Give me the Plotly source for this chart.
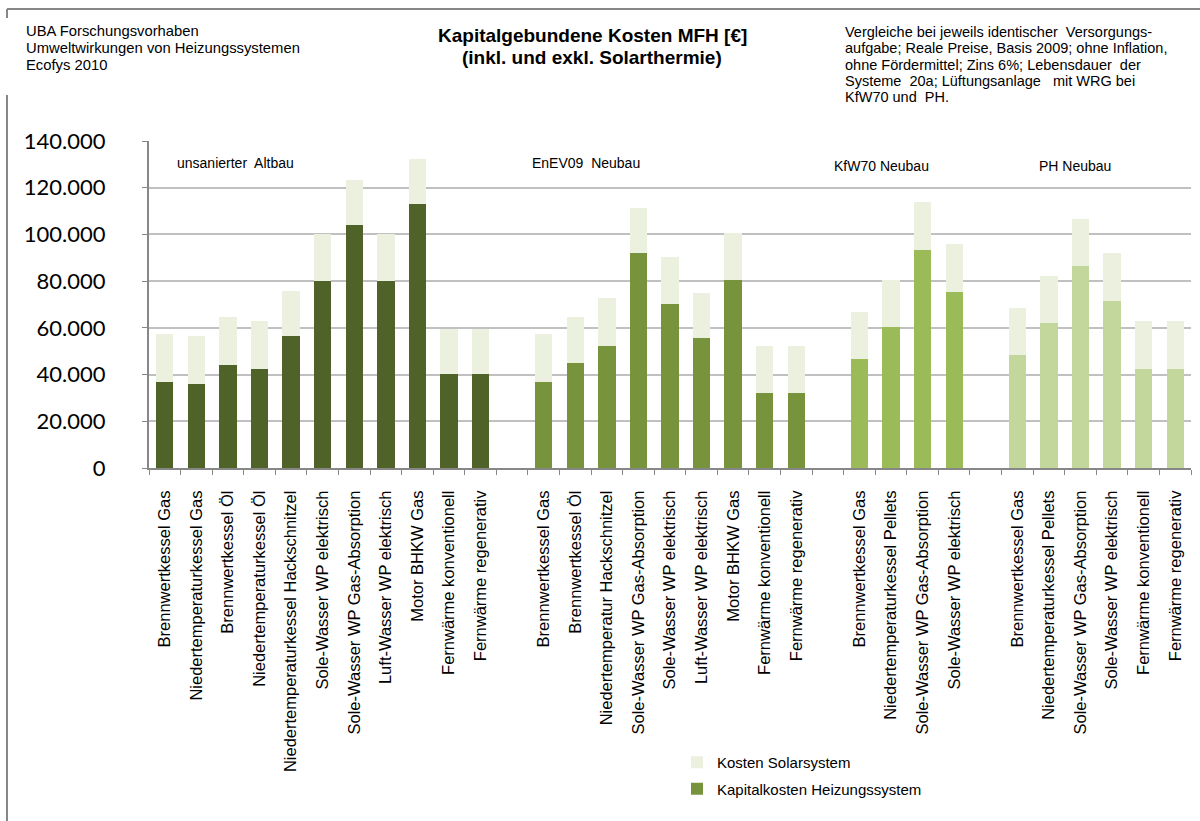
import plotly.graph_objects as go

# Categories per building standard
altbau_names = ["Brennwertkessel Gas", "Niedertemperaturkessel Gas", "Brennwertkessel Öl",
                "Niedertemperaturkessel Öl", "Niedertemperaturkessel Hackschnitzel",
                "Sole-Wasser WP elektrisch", "Sole-Wasser WP Gas-Absorption",
                "Luft-Wasser WP elektrisch", "Motor BHKW Gas", "Fernwärme konventionell",
                "Fernwärme regenerativ"]
altbau_heiz = [36900, 36100, 44300, 42600, 56400, 79900, 103900, 79900, 113000, 40300, 40300]
altbau_solar = [20400, 20300, 20200, 20200, 19400, 20100, 19500, 20100, 19400, 19400, 19400]

enev_names = ["Brennwertkessel Gas", "Brennwertkessel Öl", "Niedertemperatur Hackschnitzel",
              "Sole-Wasser WP Gas-Absorption", "Sole-Wasser WP elektrisch",
              "Luft-Wasser WP elektrisch", "Motor BHKW Gas", "Fernwärme konventionell",
              "Fernwärme regenerativ"]
enev_heiz = [36900, 45000, 52200, 92100, 70100, 55600, 80500, 32100, 32100]
enev_solar = [20400, 19500, 20400, 19100, 20100, 19400, 20200, 20100, 20100]

kfw_names = ["Brennwertkessel Gas", "Niedertemperaturkessel Pellets",
             "Sole-Wasser WP Gas-Absorption", "Sole-Wasser WP elektrisch"]
kfw_heiz = [46700, 60200, 93300, 75500]
kfw_solar = [20100, 20300, 20400, 20400]

ph_names = ["Brennwertkessel Gas", "Niedertemperaturkessel Pellets",
            "Sole-Wasser WP Gas-Absorption", "Sole-Wasser WP elektrisch",
            "Fernwärme konventionell", "Fernwärme regenerativ"]
ph_heiz = [48400, 61900, 86300, 71700, 42600, 42600]
ph_solar = [20200, 20400, 20200, 20200, 20200, 20200]

group_labels = ["unsanierter  Altbau", "EnEV09  Neubau", "KfW70 Neubau", "PH Neubau"]
group_colors = ["#4f6228", "#77933c", "#9bbb59", "#c3d69b"]
solar_color = "#ebf1de"

header_left = ["UBA Forschungsvorhaben", "Umweltwirkungen von Heizungssystemen", "Ecofys 2010"]
title_lines = ["Kapitalgebundene Kosten MFH [€]", "(inkl. und exkl. Solarthermie)"]
header_right = ["Vergleiche bei jeweils identischer  Versorgungs-",
                "aufgabe; Reale Preise, Basis 2009; ohne Inflation,",
                "ohne Fördermittel; Zins 6%; Lebensdauer  der",
                "Systeme  20a; Lüftungsanlage   mit WRG bei",
                "KfW70 und  PH."]

groups = [
    (altbau_names, altbau_heiz, altbau_solar),
    (enev_names, enev_heiz, enev_solar),
    (kfw_names, kfw_heiz, kfw_solar),
    (ph_names, ph_heiz, ph_solar),
]

# plot area in pixels (used to place the free texts)
W, H = 1200, 821
L, R, T, B = 149, 9, 141, 353
PW, PH = W - L - R, H - T - B


def px(x):
    return (x - L) / PW


def py(y):
    return (H - B - y) / PH


fig = go.Figure()

tickvals = []
ticktext = []
pos = 0
for i, (names, heiz, solar) in enumerate(groups):
    xs = list(range(pos, pos + len(names)))
    tickvals += xs
    ticktext += names
    fig.add_trace(go.Bar(
        x=xs, y=heiz, name="Kapitalkosten Heizungssystem",
        marker=dict(color=group_colors[i], line=dict(width=0)),
        width=0.55, legendgroup="heiz", legendrank=2,
        showlegend=(i == 1),
    ))
    fig.add_trace(go.Bar(
        x=xs, y=solar, name="Kosten Solarsystem",
        marker=dict(color=solar_color, line=dict(width=0)),
        width=0.55, legendgroup="solar", legendrank=1,
        showlegend=(i == 0),
    ))
    pos += len(names) + 1  # one empty slot between groups

n_slots = pos - 1

# group labels inside the plot
label_x = [0.32, 11.56, 21.13, 27.62]
label_y = [130600, 130600, 129300, 129300]
for txt, lx, ly in zip(group_labels, label_x, label_y):
    fig.add_annotation(x=lx, y=ly, xref="x", yref="y", text=txt, showarrow=False,
                       xanchor="left", yanchor="middle",
                       font=dict(family="Liberation Sans, Arial", size=14, color="#000000"))

# header texts, one annotation per line to match the tight line spacing
txt_font = dict(family="Liberation Sans, Arial", size=14.5, color="#000000")
for k, line in enumerate(header_left):
    fig.add_annotation(x=px(24), y=py(31 + 17 * k), xref="paper", yref="paper",
                       showarrow=False, text=line, xanchor="left", yanchor="middle",
                       font=dict(family="Liberation Sans, Arial", size=14.8, color="#000000"))

for k, line in enumerate(header_right):
    fig.add_annotation(x=px(843), y=py(32 + 16.3 * k), xref="paper", yref="paper",
                       showarrow=False, text=line, xanchor="left", yanchor="middle",
                       font=txt_font)

for k, line in enumerate(title_lines):
    fig.add_annotation(x=px(592), y=py(35 + 23 * k), xref="paper", yref="paper",
                       showarrow=False, text="<b>" + line + "</b>",
                       xanchor="center", yanchor="middle",
                       font=dict(family="Liberation Sans, Arial", size=19, color="#000000"))

fig.update_layout(
    width=W, height=H,
    margin=dict(l=L, r=R, t=T, b=B, autoexpand=False),
    barmode="stack",
    plot_bgcolor="white",
    paper_bgcolor="white",
    separators=",.",
    showlegend=True,
    legend=dict(x=px(677), y=py(746), xanchor="left", yanchor="top",
                traceorder="grouped", tracegroupgap=4,
                font=dict(family="Liberation Sans, Arial", size=15, color="#000000"),
                bgcolor="rgba(0,0,0,0)"),
    shapes=[
        dict(type="line", xref="paper", yref="paper", x0=px(7), x1=px(1200),
             y0=py(9), y1=py(9), line=dict(color="#878787", width=2)),
        dict(type="line", xref="paper", yref="paper", x0=px(7), x1=px(7),
             y0=py(9), y1=py(18), line=dict(color="#878787", width=2)),
        dict(type="line", xref="paper", yref="paper", x0=px(7), x1=px(7),
             y0=py(95), y1=py(821), line=dict(color="#878787", width=2)),
    ],
)

fig.update_xaxes(
    range=[-0.5, n_slots - 0.5],
    tickmode="array", tickvals=tickvals, ticktext=ticktext,
    tickangle=-90, ticks="",
    ticklabelstandoff=14,
    minor=dict(tickmode="linear", tick0=-0.5, dtick=1, ticks="outside", ticklen=5,
               tickcolor="#878787", tickwidth=1),
    showline=True, linecolor="#878787", linewidth=2,
    showgrid=False, zeroline=False,
    tickfont=dict(family="Liberation Sans, Arial", size=16.5, color="#000000"),
)

fig.update_yaxes(
    range=[0, 140000], dtick=20000, tickformat=",d",
    ticks="outside", ticklen=5, tickcolor="#878787",
    ticklabelstandoff=32,
    showline=True, linecolor="#878787", linewidth=2,
    showgrid=True, gridcolor="#c0c0c0", gridwidth=2,
    zeroline=False,
    tickfont=dict(family="Lato, Open Sans", size=22, color="#000000"),
)

# remove the default page margin so the figure sits at the window's top-left corner
fig.write_html("out.html", config={"displayModeBar": False},
               post_script="document.body.style.margin='0';")
